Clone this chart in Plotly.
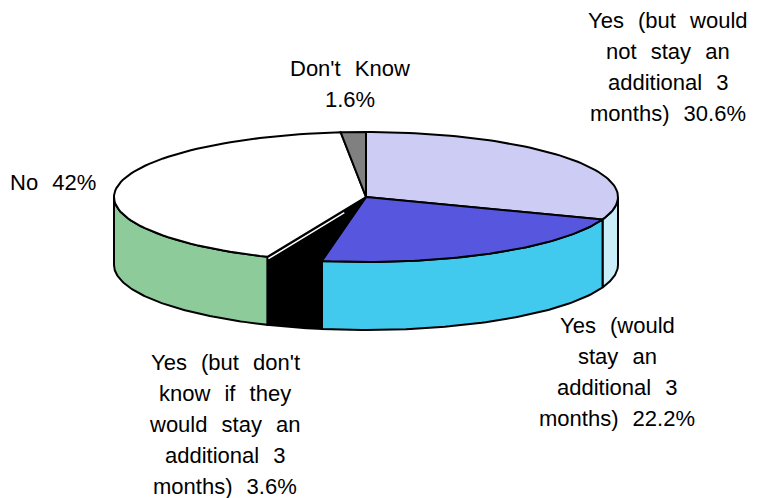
import numpy as np
import plotly.graph_objects as go

# Survey responses, clockwise from 12 o'clock
categories = [
    "Yes (but would not stay an additional 3 months)",
    "Yes (would stay an additional 3 months)",
    "Yes (but don't know if they would stay an additional 3 months)",
    "No",
    "Don't Know",
]
values = [30.6, 22.2, 3.6, 42.0, 1.6]
top_colors = ["#CCCCF4", "#5656DF", "#000000", "#FFFFFF", "#808080"]
side_colors = ["#C9EEF9", "#42C9EE", "#000000", "#8DCB9B", "#808080"]
label_lines = [
    ["Yes (but would", "not stay an", "additional 3", "months)"],
    ["Yes (would", "stay an", "additional 3", "months)"],
    ["Yes (but don't", "know if they", "would stay an", "additional 3", "months)"],
    ["No"],
    ["Don't Know", ""],
]

# label anchor: centre x and y of the first line (pixel space)
label_pos = [(668, 20), (617, 325), (225, 362), (53, 182), (350, 68)]
LINE_STEP = 31

# pie geometry in pixel space (tilted disc)
CX, CY, RX, RY, DEPTH = 366, 197, 252, 65, 68
W, H = 757, 498


def pt(theta, r=1.0, dz=0.0):
    t = np.radians(theta)
    return CX + r * RX * np.sin(t), CY - r * RY * np.cos(t) + dz


def arc(a0, a1, dz=0.0, n=80):
    th = np.linspace(a0, a1, n)
    x, y = pt(th, 1.0, dz)
    return list(x), list(y)


total = float(sum(values))
bounds = np.concatenate([[0.0], np.cumsum(values)]) / total * 360.0

fig = go.Figure()
OUT = dict(color="black", width=2)


def poly(xs, ys, fill):
    fig.add_trace(go.Scatter(
        x=xs + [xs[0]], y=ys + [ys[0]], mode="lines", fill="toself",
        fillcolor=fill, line=OUT, hoverinfo="skip", showlegend=False))


# radial face exposed at the end of the third slice
k = 2
e = bounds[k + 1]
ex, ey = pt(e)
ebx, eby = pt(e, 1.0, DEPTH)
poly([CX, ex, ebx, CX], [CY, ey, eby, CY + DEPTH], side_colors[k])

# outer walls of the front half
for i in range(len(values)):
    lo, hi = max(bounds[i], 90.0), min(bounds[i + 1], 270.0)
    if lo < hi:
        tx, ty = arc(lo, hi)
        bx, by = arc(hi, lo, DEPTH)
        poly(tx + bx, ty + by, side_colors[i])

# top faces
for i in range(len(values)):
    ax, ay = arc(bounds[i], bounds[i + 1])
    poly([CX] + ax, [CY] + ay, top_colors[i])

# light edge between the "No" top and the exposed radial face
hx0, hy0 = pt(e, 0.22, 2.5)
hx1, hy1 = pt(e, 0.99, 2.5)
fig.add_trace(go.Scatter(x=[hx0, hx1], y=[hy0, hy1], mode="lines",
                         line=dict(color="white", width=1.5),
                         hoverinfo="skip", showlegend=False))

# labels
annotations = []
for i, lines in enumerate(label_lines):
    x0, y0 = label_pos[i]
    txt = list(lines)
    val = f"{values[i]:g}%"
    txt[-1] = (txt[-1] + " " + val).strip()
    for j, line in enumerate(txt):
        annotations.append(dict(
            x=x0, y=y0 + j * LINE_STEP, xref="x", yref="y",
            text=f'<span style="word-spacing:8px">{line}</span>',
            showarrow=False, xanchor="center", yanchor="middle",
            font=dict(family="Liberation Sans, Arial, sans-serif", size=22, color="black"),
        ))

fig.update_layout(
    width=W, height=H, autosize=False,
    margin=dict(l=0, r=0, t=0, b=0),
    paper_bgcolor="white", plot_bgcolor="white",
    xaxis=dict(range=[0, W], visible=False, fixedrange=True),
    yaxis=dict(range=[H, 0], visible=False, fixedrange=True),
    annotations=annotations,
)

fig.write_html("out.html")
